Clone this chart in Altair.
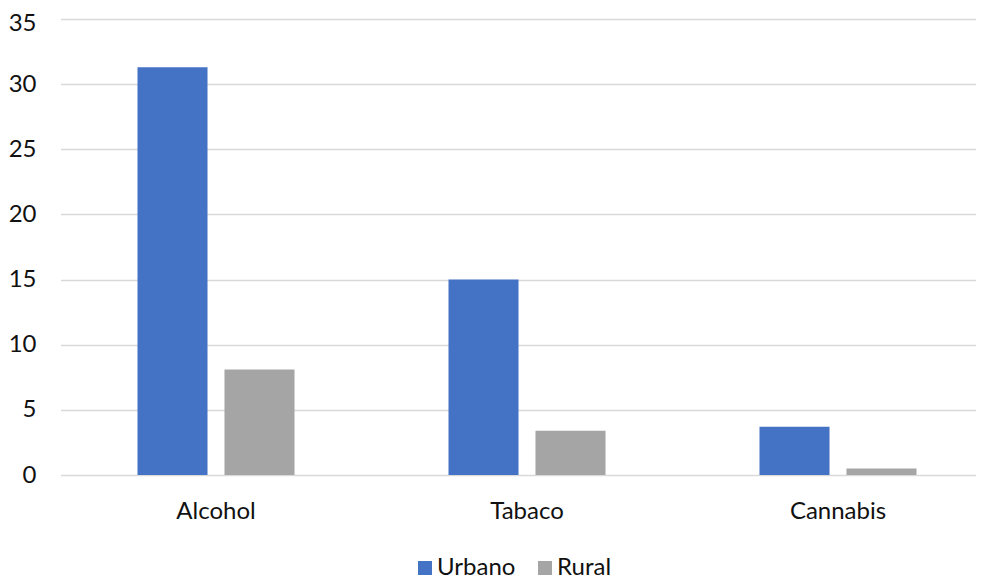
import altair as alt
import pandas as pd

categories = ["Alcohol", "Tabaco", "Cannabis"]
series = ["Urbano", "Rural"]
urbano = [31.3, 15.0, 3.7]
rural = [8.1, 3.4, 0.5]
colors = ["#4472C4", "#A5A5A5"]
y_ticks = [0, 5, 10, 15, 20, 25, 30, 35]

rows = []
for c, u, r in zip(categories, urbano, rural):
    rows.append({"cat": c, "serie": "Urbano", "val": u})
    rows.append({"cat": c, "serie": "Rural", "val": r})
df = pd.DataFrame(rows)

font = "Lato"
txt = "#111111"
fs = 24

chart = alt.Chart(df).mark_bar().encode(
    x=alt.X("cat:N", sort=categories, title=None,
            scale=alt.Scale(paddingInner=0, paddingOuter=0, rangeMin=2.5, rangeMax=935.5),
            axis=alt.Axis(labelAngle=0, ticks=False, domain=False, labelPadding=24,
                          labelFontSize=fs, labelColor=txt, labelFont=font)),
    xOffset=alt.XOffset("serie:N", sort=series,
                        scale=alt.Scale(paddingInner=0.195, paddingOuter=0.885)),
    y=alt.Y("val:Q", title=None, scale=alt.Scale(domain=[0, 35], nice=False),
            axis=alt.Axis(values=y_ticks, ticks=False, domain=False, labelPadding=22,
                          labelFontSize=fs, labelColor=txt, labelFont=font,
                          labelOffset={"condition": {"test": "datum.value === 35", "value": 4},
                                       "value": 0},
                          gridColor="#D9D9D9", gridWidth=1.5)),
    color=alt.Color("serie:N", sort=series,
                    scale=alt.Scale(domain=series, range=colors),
                    legend=alt.Legend(title=None, orient="none", direction="horizontal",
                                      legendX=355, legendY=537,
                                      symbolType="square", symbolSize=196,
                                      symbolStrokeWidth=0, labelFontSize=fs,
                                      labelFont=font, labelColor=txt, labelOffset=0,
                                      columnPadding=17)),
).properties(
    width=918, height=456,
    autosize=alt.AutoSizeParams(type="none"),
    padding={"left": 50, "top": 11, "right": 0, "bottom": 105},
).configure_view(stroke=None)

chart.save("out.html", embed_options={"renderer": "svg", "actions": False})
